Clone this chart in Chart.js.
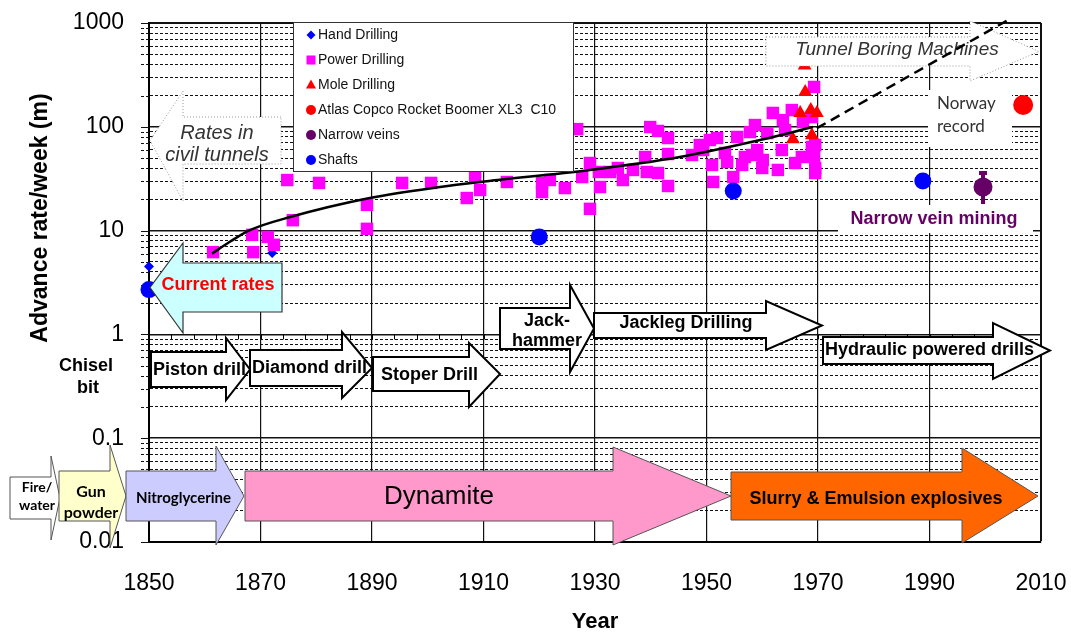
<!DOCTYPE html>
<html>
  <head>
    <title>Advance rates in mining and tunnelling</title>
    <style>
      body {
        margin: 0;
        padding: 0;
        background-color: #fff;
      }

      #chart-container {
        width: 1071px;
        height: 635px;
      }
    </style>
  </head>
  <body>
    <div id="chart-container">
      <canvas id="advance-chart" width="1071" height="635"></canvas>
    </div>

    <script src="https://cdn.jsdelivr.net/npm/chart.js"></script>
    <script>
      // Values (year, metres per week)
      const handYears = [1850, 1872.1];
      const handRates = [4.5, 6.1];

      const powerYears = [1861.5, 1868.7, 1868.5, 1871.3, 1872.4, 1874.8, 1875.8, 1880.5, 1889.1, 1889.1,
        1895.4, 1900.6, 1907.0, 1908.5, 1909.4, 1914.2, 1920.5, 1920.5, 1921.9, 1924.6,
        1926.8, 1927.7, 1929.1, 1929.1, 1930.7, 1930.9, 1932.7, 1934.1, 1935.0, 1936.8,
        1939.0, 1939.3, 1939.9, 1941.3, 1941.3, 1943.1, 1943.1, 1943.1, 1947.4, 1948.8,
        1949.4, 1950.6, 1951.0, 1951.2, 1951.9, 1953.3, 1953.7, 1954.8, 1955.5, 1956.4,
        1956.9, 1957.8, 1958.2, 1958.7, 1959.1, 1960.0, 1960.1, 1960.9, 1961.9, 1962.8,
        1963.5, 1963.7, 1964.1, 1965.3, 1965.9, 1967.1, 1967.3, 1968.9, 1968.9, 1969.3,
        1969.3, 1969.5, 1969.5, 1969.5];
      const powerRates = [6.2, 6.2, 9.1, 8.7, 7.3, 30.7, 12.6, 28.8, 17.7, 10.4,
        28.8, 28.8, 20.6, 32.8, 24.6, 29.4, 28.8, 23.5, 30.7, 25.7,
        95, 32.8, 44.8, 16.2, 36.7, 26.3, 36.7, 40.1, 30.7, 38.4,
        51.2, 36.7, 99.5, 91.2, 35.9, 78, 54.7, 26.9, 53.5, 66.8,
        59.8, 74.6, 42.9, 29.4, 78, 56, 45.8, 32.8, 79.8, 42.9,
        51.2, 89, 53.5, 104, 59.8, 40.1, 47.9, 87, 136, 38.4,
        59.8, 116, 93, 145, 44.8, 51.2, 111, 63.8, 124, 51.2,
        242, 40.1, 35.9, 66.8];

      const moleYears = [1967.6, 1967.7, 1966.8, 1968.7, 1969.8, 1965.5, 1968.9];
      const moleRates = [390, 216, 136, 145, 136, 76, 83];

      const atlasYears = [2006.8];
      const atlasRates = [162];

      const narrowYears = [1999.6];
      const narrowRates = [26.3];
      const narrowHigh = [36.7];
      const narrowLow = [18.0];

      const shaftYears = [1850, 1920, 1954.8, 1988.8];
      const shaftRates = [2.7, 8.7, 24.1, 30.1];

      const trendYears = [1861.3, 1864.5, 1868.1, 1875.3, 1889.6, 1902.2, 1909.4, 1929.1, 1945.2, 1959.6, 1969.1];
      const trendRates = [6.0, 7.8, 10.1, 13.5, 20.6, 26.3, 29.4, 38.4, 51.2, 74.6, 99.5];

      const projYears = [1969.8, 2004.1];
      const projRates = [97, 1070];

      const yMajorTicks = [0.01, 0.1, 1, 10, 100, 1000];
      const yTickLabels = ["0.01", "0.1", "1", "10", "100", "1000"];

      const FONT = 'Arial, "Liberation Sans", sans-serif';
      const CALIBRI = 'Lato, "Open Sans", sans-serif';

      function pts(xs, ys) {
        return xs.map((x, i) => ({ x: x, y: ys[i] }));
      }

      function isMajor(v) {
        const l = Math.log10(v);
        return Math.abs(l - Math.round(l)) < 1e-6;
      }

      // y ticks: every 1..9 step inside each decade
      const yTickValues = [];
      for (let d = 0; d < yMajorTicks.length - 1; d++) {
        for (let m = 1; m <= 9; m++) yTickValues.push(yMajorTicks[d] * m);
      }
      yTickValues.push(yMajorTicks[yMajorTicks.length - 1]);

      function blockArrow(c, a) {
        const mid = (a.top + a.bottom) / 2;
        c.save();
        c.beginPath();
        c.moveTo(a.tail, a.top);
        c.lineTo(a.head, a.top);
        c.lineTo(a.head, a.headTop);
        c.lineTo(a.tip, mid);
        c.lineTo(a.head, a.headBottom);
        c.lineTo(a.head, a.bottom);
        c.lineTo(a.tail, a.bottom);
        c.closePath();
        c.fillStyle = a.fill;
        c.fill();
        c.setLineDash(a.dash || []);
        c.lineWidth = a.width || 1;
        c.strokeStyle = a.stroke;
        c.lineJoin = "miter";
        c.stroke();
        c.restore();
      }

      function text(c, s, x, y, font, color, align) {
        c.save();
        c.font = font;
        c.fillStyle = color;
        c.textAlign = align || "center";
        c.textBaseline = "middle";
        c.fillText(s, x, y);
        c.restore();
      }

      function marker(c, style, x, y, color) {
        c.save();
        c.fillStyle = color;
        c.beginPath();
        if (style === "rectRot") {
          c.moveTo(x, y - 4.5); c.lineTo(x + 4.5, y); c.lineTo(x, y + 4.5); c.lineTo(x - 4.5, y);
        } else if (style === "rect") {
          c.rect(x - 4.5, y - 4.5, 9, 9);
        } else if (style === "triangle") {
          c.moveTo(x, y - 5.5); c.lineTo(x + 5, y + 3.5); c.lineTo(x - 5, y + 3.5);
        } else {
          c.arc(x, y, 5, 0, Math.PI * 2);
        }
        c.closePath();
        c.fill();
        c.restore();
      }

      const drillArrows = [
        { label: ["Piston drill"], tail: 151, head: 226, tip: 250, top: 352, bottom: 387, headTop: 338, headBottom: 400, tx: 153, ty: 370, align: "left" },
        { label: ["Diamond drill"], tail: 250, head: 342, tip: 372, top: 350, bottom: 386, headTop: 332, headBottom: 398, tx: 252, ty: 368, align: "left" },
        { label: ["Stoper Drill"], tail: 373, head: 469, tip: 500, top: 357, bottom: 391, headTop: 343, headBottom: 407, tx: 381, ty: 375, align: "left" },
        { label: ["Jack-", "hammer"], tail: 500, head: 570, tip: 594, top: 308, bottom: 349, headTop: 285, headBottom: 372, tx: 547, ty: 321, align: "center" },
        { label: ["Jackleg Drilling"], tail: 594, head: 766, tip: 822, top: 313, bottom: 338, headTop: 301, headBottom: 350, tx: 686, ty: 323, align: "center" },
        { label: ["Hydraulic powered drills"], tail: 823, head: 993, tip: 1050, top: 337, bottom: 364, headTop: 323, headBottom: 379, tx: 825, ty: 350, align: "left" },
      ];

      const blastArrows = [
        { fill: "#ffffff", tail: 10, head: 51, tip: 60, top: 477, bottom: 519, headTop: 456, headBottom: 540 },
        { fill: "#ffffcc", tail: 59, head: 110, tip: 126, top: 471, bottom: 521, headTop: 445, headBottom: 548 },
        { fill: "#ccccff", tail: 126, head: 216, tip: 244, top: 471, bottom: 521, headTop: 446, headBottom: 545 },
        { fill: "#ff99cc", tail: 245, head: 613, tip: 731, top: 471, bottom: 521, headTop: 447, headBottom: 545 },
        { fill: "#ff6600", tail: 731, head: 962, tip: 1038, top: 472, bottom: 520, headTop: 448, headBottom: 543 },
      ];

      const overlays = {
        id: "overlays",
        beforeDatasetsDraw(chart) {
          const c = chart.ctx;
          const xs = chart.scales.x;
          const ys = chart.scales.y;

          // short tick marks left of the y axis
          c.save();
          c.strokeStyle = "#111";
          c.lineWidth = 1;
          yTickValues.forEach((v) => {
            const y = Math.round(ys.getPixelForValue(v)) + 0.5;
            c.setLineDash(isMajor(v) ? [] : [3, 2]);
            c.beginPath();
            c.moveTo(xs.left - 8, y);
            c.lineTo(xs.left, y);
            c.stroke();
          });
          c.restore();

          // white patches behind the notes on the right
          c.save();
          c.fillStyle = "#fff";
          c.fillRect(928, 90, 84, 57);
          c.fillRect(838, 205, 195, 28);
          c.restore();
          text(c, "Norway", 937, 104, "17px " + CALIBRI, "#333", "left");
          text(c, "record", 937, 127, "17px " + CALIBRI, "#333", "left");
          text(c, "Narrow vein mining", 934, 219, "bold 18px " + FONT, "#660066");

          // rates in civil tunnels
          blockArrow(c, { tail: 281, head: 183, tip: 150, top: 117, bottom: 164, headTop: 91, headBottom: 201,
            fill: "#fff", stroke: "#999", dash: [1, 2], width: 1 });
          text(c, "Rates in", 217, 133, "italic 20px " + FONT, "#333");
          text(c, "civil tunnels", 217, 155, "italic 20px " + FONT, "#333");

          // small ticks hanging under the line at 1 m
          const y1 = ys.getPixelForValue(1);
          c.save();
          c.strokeStyle = "#000";
          c.lineWidth = 1;
          for (let yr = 1854; yr < 2010; yr += 4) {
            const x = Math.round(xs.getPixelForValue(yr)) + 0.5;
            c.beginPath();
            c.moveTo(x, y1);
            c.lineTo(x, y1 + 5);
            c.stroke();
          }
          c.restore();

          drillArrows.forEach((a) => {
            blockArrow(c, Object.assign({ fill: "#fff", stroke: "#000", width: 2 }, a));
            const lh = 20;
            a.label.forEach((s, i) => {
              text(c, s, a.tx, a.ty + i * lh, "bold 18px " + FONT, "#000", a.align);
            });
          });

          text(c, "Chisel", 86, 366, "bold 18px " + FONT, "#000");
          text(c, "bit", 88, 388, "bold 18px " + FONT, "#000");

          blastArrows.forEach((a) => {
            blockArrow(c, Object.assign({ stroke: "#555", width: 1 }, a));
          });
          text(c, "Fire/", 37, 487, "bold 14px " + CALIBRI, "#000");
          text(c, "water", 37, 505, "bold 14px " + CALIBRI, "#000");
          text(c, "Gun", 91, 492, "bold 16px " + CALIBRI, "#000");
          text(c, "powder", 91, 513, "bold 16px " + CALIBRI, "#000");
          text(c, "Nitroglycerine", 136, 498, "bold 15px " + CALIBRI, "#000", "left");
          text(c, "Dynamite", 439, 497, "26px " + FONT, "#000");
          text(c, "Slurry & Emulsion explosives", 876, 499, "bold 18px " + FONT, "#000");

          // y axis title
          c.save();
          c.translate(41, 218);
          c.rotate(-Math.PI / 2);
          text(c, "Advance rate/week (m)", 0, 0, "bold 23px " + FONT, "#000");
          c.restore();

          // error bar of the narrow vein value
          const ex = xs.getPixelForValue(narrowYears[0]);
          const eTop = ys.getPixelForValue(narrowHigh[0]);
          const eBot = ys.getPixelForValue(narrowLow[0]);
          c.save();
          c.strokeStyle = "#660066";
          c.lineWidth = 4;
          c.beginPath();
          c.moveTo(ex, eTop);
          c.lineTo(ex, eBot);
          c.moveTo(ex - 4, eTop + 1);
          c.lineTo(ex + 4, eTop + 1);
          c.stroke();
          c.restore();
        },
        afterDatasetDraw(chart, args) {
          if (chart.data.datasets[args.index].label !== "Mole Drilling") return;
          const c = chart.ctx;
          blockArrow(c, { tail: 766, head: 970, tip: 1039, top: 37, bottom: 66, headTop: 21, headBottom: 81,
            fill: "#fff", stroke: "#999", dash: [1, 2], width: 1 });
          text(c, "Tunnel Boring Machines", 897, 50, "italic 19px " + FONT, "#333");
        },
        afterDatasetsDraw(chart) {
          const c = chart.ctx;
          blockArrow(c, { tail: 282, head: 183, tip: 150, top: 263, bottom: 312, headTop: 243, headBottom: 333,
            fill: "#ccffff", stroke: "#333", width: 1.2 });
          text(c, "Current rates", 218, 285, "bold 18px " + FONT, "#ff0000");

          // legend
          c.save();
          c.fillStyle = "#fff";
          c.strokeStyle = "#333";
          c.lineWidth = 1;
          c.fillRect(293, 22, 280, 149);
          c.strokeRect(293.5, 22.5, 280, 149);
          c.restore();
          const items = chart.data.datasets.filter((d) => d.inLegend);
          items.forEach((d, i) => {
            const y = 35 + i * 25;
            marker(c, d.pointStyle, 311, y, d.backgroundColor);
            text(c, d.label, 318, y, "14px " + FONT, "#111", "left");
          });
        },
      };

      const ctx = document.getElementById("advance-chart").getContext("2d");

      const chart = new Chart(ctx, {
        type: "scatter",
        data: {
          datasets: [
            {
              label: "Hand Drilling",
              data: pts(handYears, handRates),
              pointStyle: "rectRot",
              pointRadius: 5,
              backgroundColor: "#0000ff",
              borderWidth: 0,
              inLegend: true,
              order: 6,
              clip: false,
            },
            {
              label: "Power Drilling",
              data: pts(powerYears, powerRates),
              pointStyle: "rect",
              pointRadius: 8.8,
              backgroundColor: "#ff00ff",
              borderWidth: 0,
              inLegend: true,
              order: 5,
              clip: false,
            },
            {
              label: "Mole Drilling",
              data: pts(moleYears, moleRates),
              pointStyle: "triangle",
              pointRadius: 8,
              backgroundColor: "#ff0000",
              borderWidth: 0,
              inLegend: true,
              order: 4,
              clip: false,
            },
            {
              label: "Atlas Copco Rocket Boomer XL3  C10",
              data: pts(atlasYears, atlasRates),
              pointStyle: "circle",
              pointRadius: 10,
              backgroundColor: "#ff0000",
              borderWidth: 0,
              inLegend: true,
              order: 3,
              clip: false,
            },
            {
              label: "Narrow veins",
              data: pts(narrowYears, narrowRates),
              pointStyle: "circle",
              pointRadius: 9.5,
              backgroundColor: "#660066",
              borderWidth: 0,
              inLegend: true,
              order: 3,
              clip: false,
            },
            {
              label: "Shafts",
              data: pts(shaftYears, shaftRates),
              pointStyle: "circle",
              pointRadius: 8.5,
              backgroundColor: "#0000ff",
              borderWidth: 0,
              inLegend: true,
              order: 3,
              clip: false,
            },
            {
              label: "Trend",
              data: pts(trendYears, trendRates),
              showLine: true,
              cubicInterpolationMode: "monotone",
              borderColor: "#000",
              borderWidth: 2.5,
              pointRadius: 0,
              order: 1,
              clip: false,
            },
            {
              label: "Projection",
              data: pts(projYears, projRates),
              showLine: true,
              borderColor: "#000",
              borderWidth: 2.5,
              borderDash: [10, 6],
              pointRadius: 0,
              order: 0,
              clip: false,
            },
          ],
        },
        options: {
          responsive: false,
          animation: false,
          events: [],
          layout: { padding: { top: 23, right: 30, left: 0, bottom: 0 } },
          plugins: {
            legend: { display: false },
            tooltip: { enabled: false },
          },
          scales: {
            x: {
              type: "linear",
              min: 1850,
              max: 2010,
              ticks: {
                stepSize: 20,
                padding: 0,
                color: "#000",
                font: { family: FONT, size: 23 },
                callback: (v) => String(v),
              },
              grid: {
                color: "#111",
                drawTicks: true,
                tickLength: 28,
                tickColor: "rgba(0,0,0,0)",
                lineWidth: (c) => (c.tick && c.tick.value === 2010 ? 2 : 1.2),
              },
              border: { color: "#000", width: 2 },
              title: {
                display: true,
                text: "Year",
                color: "#000",
                font: { family: FONT, size: 22, weight: "bold" },
                padding: { top: 0, bottom: 0 },
              },
              afterFit: (s) => {
                s.height = 93;
              },
            },
            y: {
              type: "logarithmic",
              min: 0.01,
              max: 1000,
              afterBuildTicks: (s) => {
                s.ticks = yTickValues.map((v) => ({ value: v, major: isMajor(v) }));
              },
              ticks: {
                autoSkip: false,
                padding: 0,
                color: "#000",
                font: { family: FONT, size: 23 },
                callback: (v) => {
                  const i = yMajorTicks.findIndex((m) => Math.abs(Math.log10(m) - Math.log10(v)) < 1e-6);
                  return i >= 0 ? yTickLabels[i] : "";
                },
              },
              grid: {
                color: "#111",
                tickLength: 25,
                tickColor: "rgba(0,0,0,0)",
                lineWidth: (c) => {
                  if (!c.tick) return 1;
                  if (c.tick.value >= 999) return 2;
                  return isMajor(c.tick.value) ? 1.5 : 1;
                },
              },
              border: {
                color: "#000",
                width: 2,
                dash: (c) => (c.tick && !isMajor(c.tick.value) ? [3, 2] : []),
              },
              afterFit: (s) => {
                s.width = 149;
              },
            },
          },
        },
        plugins: [overlays],
      });
    </script>
  </body>
</html>
